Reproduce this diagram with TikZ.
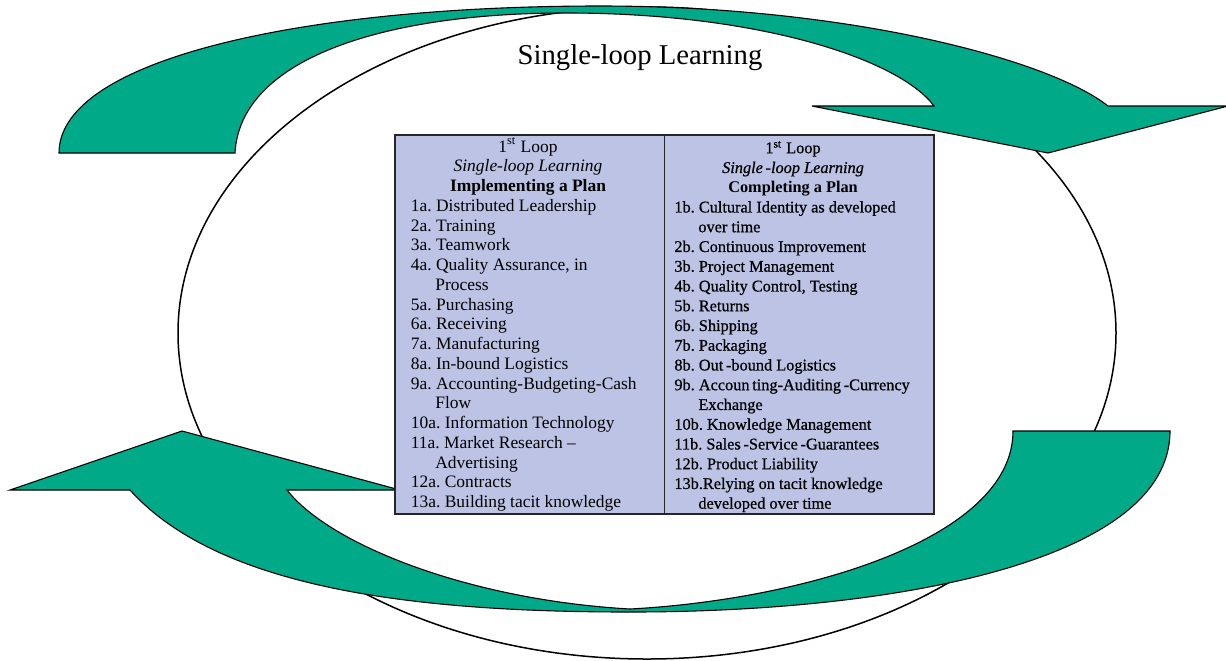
\documentclass[tikz,border=0pt]{standalone}
\usepackage{fontspec}
\setmainfont{Liberation Serif}
\newfontfamily\rcolfont[FakeBold=0.6]{Liberation Serif}
\definecolor{arrowgreen}{RGB}{0,170,136}
\definecolor{tablefill}{RGB}{188,195,228}
\newcommand\leftsz{\frenchspacing\fontsize{8.72}{10}\selectfont}
\newcommand\rightsz{\frenchspacing\rcolfont\fontsize{8.15}{10}\selectfont}
\tikzset{
  arrowshape/.style={fill=arrowgreen, draw=black, line width=0.55pt, line join=miter},
  ring/.style={draw=black, line width=0.75pt},
  tablebox/.style={draw=black!85, line width=0.75pt, fill=tablefill},
  litem/.style={inner sep=0pt, anchor=base west, font=\leftsz},
  ritem/.style={inner sep=0pt, anchor=base west, font=\rightsz},
  lhead/.style={inner sep=0pt, anchor=base, font=\leftsz},
  rhead/.style={inner sep=0pt, anchor=base, font=\rightsz},
  titletext/.style={inner sep=0pt, anchor=base, font=\fontsize{14.35}{17}\selectfont}
}
\begin{document}
\begin{tikzpicture}[x=0.5pt,y=-0.5pt]
\useasboundingbox (0,0) rectangle (1226,660);
% big ellipse
\draw[ring] (647,333) ellipse [x radius=469, y radius=326];
% top curved arrow
\filldraw[arrowshape] (59,153) .. controls (59,60) and (300,6) .. (600,6)
  .. controls (850,6) and (1050,60) .. (1108,106) -- (1228,106) -- (1048,153)
  -- (812,106) -- (934,106) .. controls (900,60) and (760,12) .. (560,13)
  .. controls (380,14) and (240,60) .. (235,153) -- cycle;
% bottom curved arrow
\filldraw[arrowshape] (1170,431) .. controls (1170,560) and (900,612) .. (630,612)
  .. controls (420,612) and (220,590) .. (130,490) -- (10,490) -- (182,431)
  -- (400,490) -- (287,490) .. controls (330,545) and (470,600) .. (630,609)
  .. controls (800,600) and (1013,540) .. (1013,431) -- cycle;
% table
\node[tablebox, anchor=north west, inner sep=0pt, minimum width=269.5pt, minimum height=189.5pt] (tbl) at (394,134) {};
\draw[draw=black!85, line width=0.75pt] (tbl.north) -- (tbl.south);
% left column
\node[lhead] (lh1) at (528,152.2) {1\textsuperscript{st} Loop};
\node[lhead] (lh2) at (528,171.95) {\itshape Single-loop Learning};
\node[lhead] (lh3) at (528,191.7) {\bfseries Implementing a Plan};
\foreach \i/\dx/\t in {3/0/{1a. Distributed Leadership},4/0/{2a. Training},5/0/{3a. Teamwork},
  6/0/{4a. Quality Assurance, in},7/24.5/{Process},8/0/{5a. Purchasing},9/0/{6a. Receiving},
  10/0/{7a. Manufacturing},11/0/{8a. In-bound Logistics},12/0/{9a. Accounting-Budgeting-Cash},
  13/24.5/{Flow},14/0/{10a. Information Technology},15/0/{11a. Market Research --},
  16/24.5/{Advertising},17/0/{12a. Contracts},18/0/{13a. Building tacit knowledge}}
  \node[litem] (l\i) at ({410.5+\dx},{152.2+19.75*\i}) {\t};
% right column
\node[rhead] (rh1) at (793,153.2) {1\textsuperscript{st} Loop};
\node[rhead] (rh2) at (793,172.95) {\itshape Single\,-loop Learning};
\node[lhead] (rh3) at (793,192.7) {\fontsize{8.15}{10}\selectfont\bfseries Completing a Plan};
\foreach \i/\dx/\t in {3/0/{1b. Cultural Identity as developed},4/24/{over time},
  5/0/{2b. Continuous Improvement},6/0/{3b. Project Management},7/0/{4b. Quality Control, Testing},
  8/0/{5b. Returns},9/0/{6b. Shipping},10/0/{7b. Packaging},11/0/{8b. Out\,-bound Logistics},
  12/0/{9b. Accoun\,ting-Auditing\,-Currency},13/24/{Exchange},14/0/{10b. Knowledge Management},
  15/0/{11b. Sales\,-Service\,-Guarantees},16/0/{12b. Product Liability},
  17/0/{13b.Relying on tacit knowledge},18/24/{developed over time}}
  \node[ritem] (r\i) at ({674+\dx},{153.2+19.75*\i}) {\t};
% title
\node[titletext] (title) at (640,64) {Single-loop Learning};
\end{tikzpicture}
\end{document}
